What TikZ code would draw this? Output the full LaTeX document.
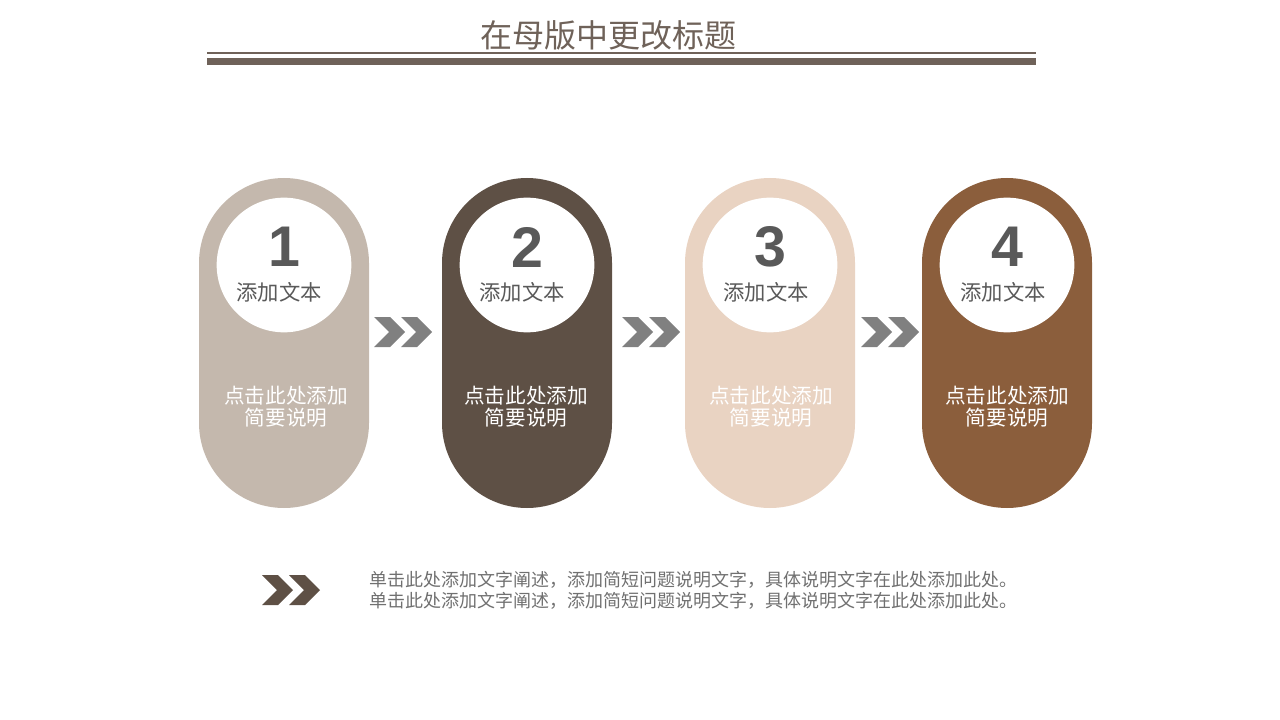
\documentclass[tikz,border=0pt]{standalone}
\usepackage{fontspec}
\setmainfont{Noto Sans CJK SC}
\newfontfamily\numfont{Liberation Sans}
\usetikzlibrary{positioning}

\definecolor{titlegray}{HTML}{6F6259}
\definecolor{pillA}{HTML}{C4B8AD}
\definecolor{pillB}{HTML}{5E5045}
\definecolor{pillC}{HTML}{E9D3C2}
\definecolor{pillD}{HTML}{8B5E3C}
\definecolor{chevgray}{HTML}{808080}
\definecolor{txtgray}{HTML}{595959}
\definecolor{notegray}{HTML}{707070}

% double chevron, #1 = left, #2 = top, #3 = colour
\newcommand{\dchev}[3]{%
\fill [#3] (#1,#2) -- ++(16,0) -- ++(15,15) -- ++(-15,15) -- ++(-16,0) -- ++(15,-15) -- cycle;
\fill [#3] (#1+27,#2) -- ++(16,0) -- ++(15,15) -- ++(-15,15) -- ++(-16,0) -- ++(15,-15) -- cycle;
}

\tikzset{
pill/.style={rectangle, rounded corners=63.75pt, minimum width=127.5pt, minimum height=247.5pt},
disc/.style={circle, fill=white, minimum size=101pt},
num/.style={font=\numfont\bfseries\fontsize{43}{43}\selectfont, text=txtgray},
lbl/.style={font=\fontsize{16}{16}\selectfont, text=txtgray},
note/.style={font=\fontsize{15.5}{16.5}\selectfont, text=white, align=center}
}

\begin{document}
\begin{tikzpicture}[x=0.75pt,y=-0.75pt]
\tikzstyle{every node}+=[inner sep=0pt]
\useasboundingbox (0,0) rectangle (1280,720);
% title
\node [text=titlegray, font=\fontsize{24}{24}\selectfont] (title) at (608,35) {在母版中更改标题};
\fill [titlegray] (207,52) rectangle (1036,54);
\fill [titlegray] (207,58) rectangle (1036,65);
% steps
\node [pill, fill=pillA] (p1) at (284,343) {};
\node [disc] (c1) at (284,265) {};
\node [num] (n1) at (284,247) {1};
\node [lbl] (l1) at (279,292) {添加文本};
\node [note] (t1) at (286,407) {点击此处添加\\简要说明};
\node [pill, fill=pillB] (p2) at (527,343) {};
\node [disc] (c2) at (527,265) {};
\node [num] (n2) at (527,247) {2};
\node [lbl] (l2) at (522,292) {添加文本};
\node [note] (t2) at (526,407) {点击此处添加\\简要说明};
\node [pill, fill=pillC] (p3) at (770,343) {};
\node [disc] (c3) at (770,265) {};
\node [num] (n3) at (770,247) {3};
\node [lbl] (l3) at (766,292) {添加文本};
\node [note] (t3) at (771,407) {点击此处添加\\简要说明};
\node [pill, fill=pillD] (p4) at (1007,343) {};
\node [disc] (c4) at (1007,265) {};
\node [num] (n4) at (1007,247) {4};
\node [lbl] (l4) at (1003,292) {添加文本};
\node [note] (t4) at (1007,407) {点击此处添加\\简要说明};
% arrows between steps
\dchev{374}{317}{chevgray}
\dchev{622}{317}{chevgray}
\dchev{861}{317}{chevgray}
% bottom note
\dchev{262}{575}{pillB}
\node [anchor=west, align=left, text=notegray, font=\fontsize{13.5}{15.75}\selectfont] (desc) at (369,590) {单击此处添加文字阐述，添加简短问题说明文字，具体说明文字在此处添加此处。\\单击此处添加文字阐述，添加简短问题说明文字，具体说明文字在此处添加此处。};
\end{tikzpicture}
\end{document}
